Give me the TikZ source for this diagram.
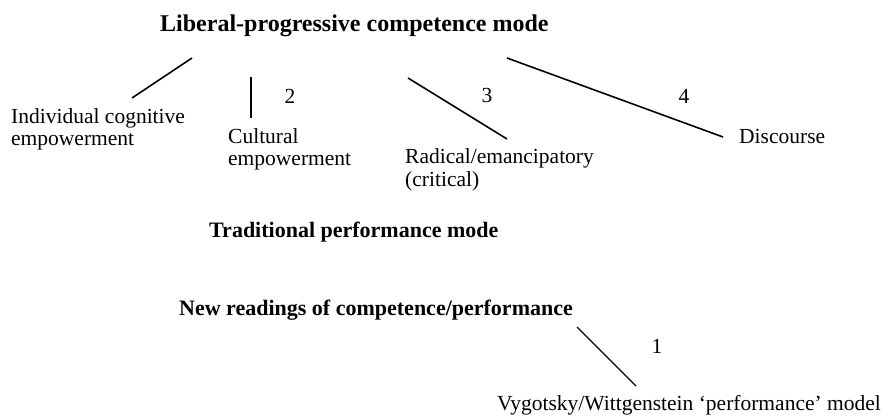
\documentclass[tikz,border=0pt]{standalone}
\usepackage{fontspec}
\setmainfont{Liberation Serif}
\begin{document}
\begin{tikzpicture}[x=1pt,y=-1pt,
  txt/.style={anchor=base west, inner sep=0pt, align=left,
    font=\fontsize{21.5}{22.5}\selectfont},
  head/.style={anchor=base west, inner sep=0pt,
    font=\bfseries\fontsize{22}{26}\selectfont},
  title/.style={anchor=base west, inner sep=0pt,
    font=\bfseries\fontsize{24}{28}\selectfont},
  num/.style={anchor=base, inner sep=0pt,
    font=\fontsize{21.5}{22.5}\selectfont},
  link/.style={line width=1.6pt},
  thinlink/.style={line width=1.1pt}]
\useasboundingbox (0,0) rectangle (889,417);

% headings
\node[title] (lib) at (160,32) {Liberal-progressive competence mode};
\node[head] (trad) at (209,237) {Traditional performance mode};
\node[head] (new) at (179,315) {New readings of competence/performance};

% branches of the liberal-progressive mode (base = last line)
\node[txt] (indiv) at (11,146) {Individual cognitive\\empowerment};
\node[txt] (cult) at (228,166) {Cultural\\empowerment};
\node[txt] (rad) at (405,186) {Radical/emancipatory\\(critical)};
\node[txt] (disc) at (739,143) {Discourse};
\node[txt] (vyg) at (497,410) {Vygotsky/Wittgenstein ‘performance’ model};

% branch numbers
\node[num] (n2) at (290,104) {2};
\node[num] (n3) at (487,103) {3};
\node[num] (n4) at (684,104) {4};
\node[num] (n1) at (657,353) {1};

% connector end points
\coordinate (a1) at (192,58);  \coordinate (a2) at (132,98);
\coordinate (b1) at (251,77);  \coordinate (b2) at (251,118);
\coordinate (c1) at (408,78);  \coordinate (c2) at (507,139);
\coordinate (d1) at (507,58);  \coordinate (d2) at (723,137);
\coordinate (e1) at (577,327); \coordinate (e2) at (636,386);

\draw[link] (a1) -- (a2);
\draw[link] (b1) -- (b2);
\draw[link] (c1) -- (c2);
\draw[link] (d1) -- (d2);
\draw[thinlink] (e1) -- (e2);
\end{tikzpicture}
\end{document}
